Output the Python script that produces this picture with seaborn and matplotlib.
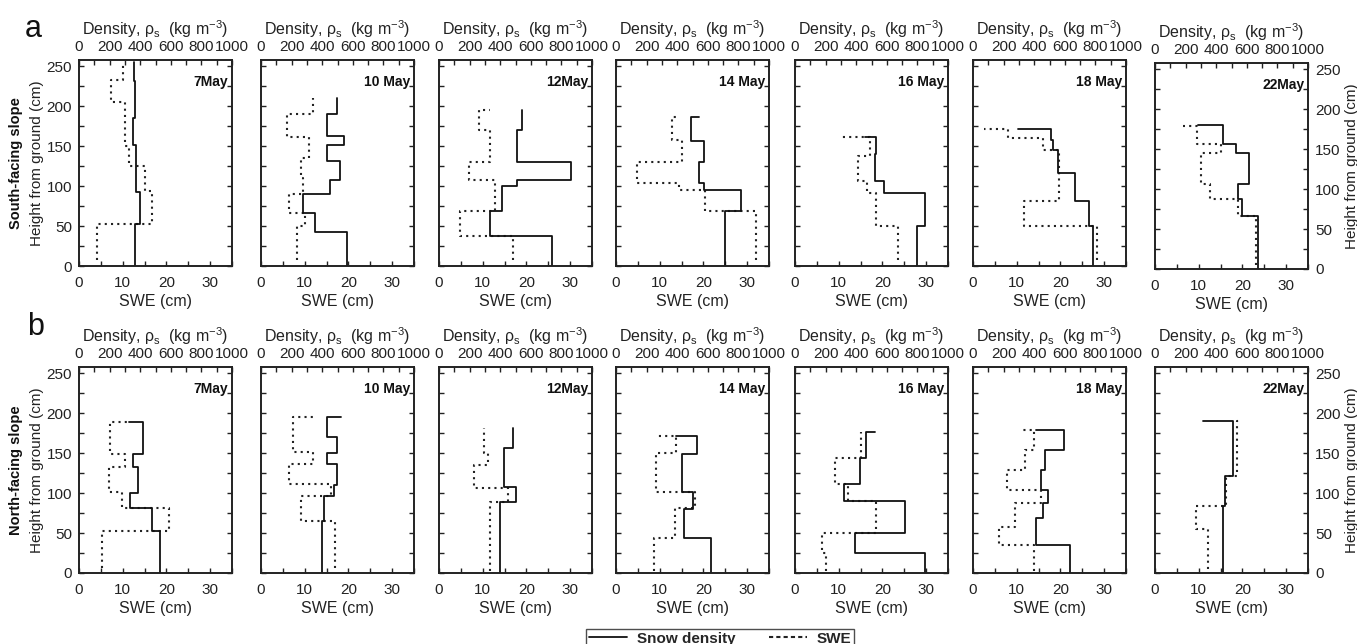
import numpy as np
import pandas as pd
import matplotlib
matplotlib.use("Agg")
import matplotlib.pyplot as plt
from matplotlib.lines import Line2D
from matplotlib.ticker import MultipleLocator
import seaborn as sns

sns.set_theme(style="ticks")
plt.rcParams['font.family'] = ['Liberation Sans', 'DejaVu Sans']
plt.rcParams['mathtext.default'] = 'regular'

dates = ["7May", "10 May", "12May", "14 May", "16 May", "18 May", "22May"]

# south-facing slope, snow density (kg m-3): layer boundaries (cm), layer values, top cap
south_rho_bounds = [[0, 53, 93, 152, 185, 232, 255],
                    [0, 42, 67, 90, 108, 132, 151, 163, 190, 210],
                    [0, 37, 69, 100, 108, 130, 170, 195],
                    [0, 69, 95, 104, 130, 156, 187],
                    [0, 50, 91, 106, 140, 162],
                    [0, 50, 81, 116, 145, 158, 171],
                    [0, 66, 88, 106, 145, 157, 180]]
south_rho = [[369, 400, 374, 354, 369, 357],
             [560, 354, 274, 451, 514, 429, 543, 429, 497],
             [737, 334, 411, 511, 860, 511, 543],
             [714, 817, 574, 543, 574, 489],
             [800, 849, 580, 520, 531],
             [786, 757, 666, 557, 520, 509],
             [674, 566, 540, 614, 529, 446]]
south_rho_cap = [None, None, None, 543, 460, 297, 283]

# south-facing slope, SWE (cm)
south_swe_bounds = [[8, 53, 94, 125, 150, 205, 233, 255],
                    [8, 50, 67, 90, 110, 135, 162, 190, 210],
                    [8, 37, 69, 108, 130, 170, 195],
                    [8, 69, 95, 104, 130, 158, 187],
                    [8, 50, 91, 106, 138, 162],
                    [8, 50, 81, 145, 160, 171],
                    [5, 66, 88, 106, 145, 157, 179]]
south_swe = [[4.2, 16.8, 15.2, 11.4, 10.6, 7.3, 10.0],
             [8.3, 10.0, 6.4, 9.6, 9.2, 11.0, 6.0, 12.0],
             [17.0, 4.8, 12.8, 6.8, 11.7, 9.2],
             [32.0, 20.3, 14.5, 4.9, 15.1, 12.7],
             [23.5, 18.5, 16.4, 14.4, 17.2],
             [28.3, 11.6, 19.6, 16.0, 8.0],
             [23.2, 18.9, 12.6, 10.6, 15.0, 9.6]]
south_swe_cap = [None, None, 11.7, 14.3, 10.6, 2.5, 6.4]

# north-facing slope, snow density (kg m-3)
north_rho_bounds = [[0, 53, 81, 100, 133, 149, 189],
                    [0, 65, 97, 110, 137, 150, 170, 195],
                    [0, 89, 108, 156, 181],
                    [0, 44, 80, 101, 149, 172],
                    [0, 25, 50, 90, 112, 144, 176],
                    [0, 35, 69, 88, 104, 129, 154, 179],
                    [0, 84, 121, 190]]
north_rho = [[529, 480, 331, 386, 351, 417],
             [397, 411, 477, 494, 431, 494, 431],
             [397, 500, 426, 483],
             [623, 446, 500, 431, 531],
             [849, 394, 720, 320, 423, 466],
             [637, 411, 460, 489, 443, 469, 597],
             [446, 457, 509]]
north_rho_cap = [329, 526, None, 394, 520, 411, 311]

# north-facing slope, SWE (cm)
north_swe_bounds = [[6, 53, 81, 102, 133, 149, 189],
                    [6, 65, 97, 111, 137, 152, 195],
                    [3, 89, 107, 135, 150, 181],
                    [3, 44, 82, 101, 150, 172],
                    [3, 25, 50, 90, 112, 144, 176],
                    [3, 35, 58, 88, 104, 129, 154, 179],
                    [5, 55, 84, 121, 190]]
north_swe = [[5.2, 20.7, 9.9, 6.9, 10.5, 7.2],
             [16.9, 9.2, 16.0, 6.4, 12.0, 7.4],
             [11.6, 15.7, 8.1, 11.1, 10.4],
             [8.7, 13.5, 18.0, 9.2, 13.8],
             [7.2, 6.1, 18.5, 12.2, 9.1, 15.1],
             [14.0, 6.0, 9.7, 15.5, 7.8, 11.8, 14.0],
             [12.1, 9.4, 16.3, 18.8]]
north_swe_cap = [11.0, 12.4, None, 9.0, None, 11.0, 19.9]


def step_profile(bounds, vals, cap=None):
    b = np.asarray(bounds, dtype=float)
    h = np.column_stack([b[:-1], b[1:]]).ravel()
    x = np.repeat(np.asarray(vals, dtype=float), 2)
    if cap is not None:
        x = np.append(x, cap)
        h = np.append(h, b[-1])
    return pd.DataFrame({"x": x, "h": h})


W, H = 1357, 644
fig = plt.figure(figsize=(W / 100, H / 100), dpi=100)

lefts = [79, 261, 439, 616, 795, 973, 1155]
row_tops = [60, 367]
pw, ph = 153, 206
dotted = (0, (1, 2))
ink = "#222222"

rows = [
    ("South-facing slope", south_rho_bounds, south_rho, south_rho_cap,
     south_swe_bounds, south_swe, south_swe_cap),
    ("North-facing slope", north_rho_bounds, north_rho, north_rho_cap,
     north_swe_bounds, north_swe, north_swe_cap),
]

for r, (slope, rb, rv, rc, sb, sv, sc) in enumerate(rows):
    for i, date in enumerate(dates):
        top = row_tops[r] + (3 if (r == 0 and i == 6) else 0)
        ax = fig.add_axes([lefts[i] / W, 1 - (top + ph) / H, pw / W, ph / H])
        ax2 = ax.twiny()

        swe_df = step_profile(sb[i], sv[i], sc[i])
        rho_df = step_profile(rb[i], rv[i], rc[i])
        sns.lineplot(data=swe_df, x="x", y="h", sort=False, estimator=None,
                     ax=ax, color=ink, lw=1.5, linestyle=dotted, legend=False)
        sns.lineplot(data=rho_df, x="x", y="h", sort=False, estimator=None,
                     ax=ax2, color="#111111", lw=1.3, legend=False)

        ax.set_xlim(0, 35)
        ax.set_ylim(0, 258)
        ax2.set_xlim(0, 1000)
        ax.xaxis.set_major_locator(MultipleLocator(10))
        ax.xaxis.set_minor_locator(MultipleLocator(5))
        ax.yaxis.set_major_locator(MultipleLocator(50))
        ax.yaxis.set_minor_locator(MultipleLocator(25))
        ax2.xaxis.set_major_locator(MultipleLocator(200))
        ax2.xaxis.set_minor_locator(MultipleLocator(100))

        ax.tick_params(axis="x", which="both", direction="in", bottom=True, top=False,
                       length=3.5, width=1, labelsize=11, pad=7, colors=ink)
        ax.tick_params(axis="y", which="both", direction="in", left=True, right=True,
                       length=3.5, width=1, labelsize=11, pad=5, colors=ink,
                       labelleft=(i == 0), labelright=(i == 6))
        ax2.tick_params(axis="x", which="both", direction="in", top=True, bottom=False,
                        length=3.5, width=1, labelsize=11, pad=4, colors=ink)

        for a in (ax, ax2):
            for s in a.spines.values():
                s.set_visible(True)
                s.set_color(ink)
                s.set_linewidth(1.2)

        ax.set_xlabel("SWE (cm)", fontsize=11.5, labelpad=3, color=ink)
        ax2.set_xlabel(r"Density, ρ$_\mathregular{s}$  (kg m$^{-3}$)", fontsize=11.5,
                       labelpad=4, color=ink)
        if i == 0:
            ax.set_ylabel("Height from ground (cm)", fontsize=11, labelpad=2, color=ink)
        elif i == 6:
            ax.yaxis.set_label_position("right")
            ax.set_ylabel("Height from ground (cm)", fontsize=11, labelpad=3, color=ink)
        else:
            ax.set_ylabel("")

        ax.text(0.975, 0.893, date, transform=ax.transAxes, ha="right", va="center",
                fontsize=10, fontweight="bold", color="#111111")

    yc = 1 - (row_tops[r] + ph / 2) / H
    fig.text(16 / W, yc, slope, rotation=90, ha="center", va="center",
             fontsize=10.5, fontweight="bold", color="#111111")

fig.text(33 / W, 1 - 29 / H, "a", ha="center", va="center", fontsize=22, color="#111111")
fig.text(36 / W, 1 - 327 / H, "b", ha="center", va="center", fontsize=22, color="#111111")

handles = [Line2D([], [], color="#111111", lw=1.3),
           Line2D([], [], color=ink, lw=1.5, linestyle=(0, (2, 1.5)))]
leg = fig.legend(handles, ["Snow density", "SWE"], loc="upper center",
                 bbox_to_anchor=(720 / W, 1 - 621 / H), ncol=2, frameon=True,
                 fancybox=False, borderpad=0.2, handlelength=2.5, columnspacing=2.2,
                 handletextpad=0.6, prop={"weight": "bold", "size": 11})
leg.get_frame().set_edgecolor(ink)
leg.get_frame().set_linewidth(1.0)

fig.savefig("out.png", dpi=100)
